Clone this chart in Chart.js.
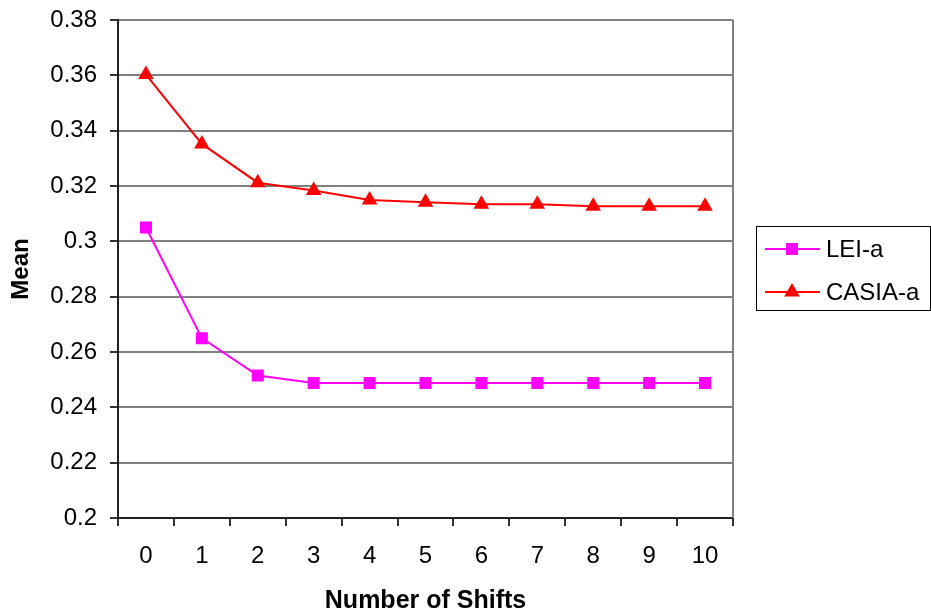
<!DOCTYPE html>
<html>
<head>
<meta charset="utf-8">
<script src="https://cdn.jsdelivr.net/npm/chart.js@4"></script>
<style>
  html, body { margin: 0; padding: 0; background: #fff; }
  #wrap { width: 931px; height: 616px; }
</style>
</head>
<body>
<div id="wrap"><canvas id="meanChart" width="931" height="616"></canvas></div>
<script>
// shift counts on the x axis
const shifts = ['0', '1', '2', '3', '4', '5', '6', '7', '8', '9', '10'];

// mean values per data set
const leiA = [0.305, 0.265, 0.2515, 0.2488, 0.2488, 0.2488, 0.2488, 0.2488, 0.2488, 0.2488, 0.2488];
const casiaA = [0.3603, 0.3352, 0.3212, 0.3184, 0.3149, 0.3141, 0.3134, 0.3134, 0.3127, 0.3127, 0.3127];

const yMin = 0.2;
const yMax = 0.38;
const yStep = 0.02;

const FONT = 'Arial, "Liberation Sans", sans-serif';

// gray frame on the right edge of the plot
const frameRight = {
    id: 'frameRight',
    beforeDatasetsDraw(chart) {
        const a = chart.chartArea;
        const ctx = chart.ctx;
        ctx.save();
        ctx.strokeStyle = '#808080';
        ctx.lineWidth = 2;
        ctx.beginPath();
        ctx.moveTo(a.right, a.top);
        ctx.lineTo(a.right, a.bottom);
        ctx.stroke();
        ctx.restore();
    }
};

function marker(ctx, style, x, y, r, color) {
    ctx.fillStyle = color;
    ctx.beginPath();
    if (style === 'rect') {
        const s = r * Math.SQRT1_2;
        ctx.rect(x - s, y - s, 2 * s, 2 * s);
    } else {
        let rad = 0;
        ctx.moveTo(x + Math.sin(rad) * r, y - Math.cos(rad) * r);
        rad += 2 * Math.PI / 3;
        ctx.lineTo(x + Math.sin(rad) * r, y - Math.cos(rad) * r);
        rad += 2 * Math.PI / 3;
        ctx.lineTo(x + Math.sin(rad) * r, y - Math.cos(rad) * r);
        ctx.closePath();
    }
    ctx.fill();
}

// boxed legend with line + marker samples
const boxLegend = {
    id: 'boxLegend',
    afterDraw(chart) {
        const ctx = chart.ctx;
        const bx = 756, by = 226, bw = 174, bh = 84;
        ctx.save();
        ctx.strokeStyle = '#000';
        ctx.lineWidth = 1;
        ctx.strokeRect(bx + 0.5, by + 0.5, bw, bh);
        ctx.font = '24px ' + FONT;
        ctx.textBaseline = 'middle';
        ctx.textAlign = 'left';
        chart.data.datasets.forEach((ds, i) => {
            const y = 249 + i * 43;
            ctx.strokeStyle = ds.borderColor;
            ctx.lineWidth = ds.borderWidth;
            ctx.beginPath();
            ctx.moveTo(765, y);
            ctx.lineTo(820, y);
            ctx.stroke();
            marker(ctx, ds.pointStyle, 792, y, ds.pointRadius, ds.backgroundColor);
            ctx.fillStyle = '#000';
            ctx.fillText(ds.label, 826, y + 1);
        });
        ctx.restore();
    }
};

new Chart(document.getElementById('meanChart'), {
    type: 'line',
    data: {
        labels: shifts,
        datasets: [
            {
                label: 'LEI-a',
                data: leiA,
                borderColor: '#ff00ff',
                backgroundColor: '#ff00ff',
                borderWidth: 2,
                pointStyle: 'rect',
                pointRadius: 8.5,
                pointBorderWidth: 0,
                tension: 0
            },
            {
                label: 'CASIA-a',
                data: casiaA,
                borderColor: '#ff0000',
                backgroundColor: '#ff0000',
                borderWidth: 2,
                pointStyle: 'triangle',
                pointRadius: 9,
                pointBorderWidth: 0,
                tension: 0
            }
        ]
    },
    options: {
        responsive: false,
        animation: false,
        layout: { padding: { left: 0, top: 20, right: 198, bottom: 0 } },
        plugins: {
            legend: { display: false },
            tooltip: { enabled: false }
        },
        scales: {
            x: {
                offset: true,
                afterFit(scale) { scale.height = 98; },
                grid: {
                    display: true,
                    drawOnChartArea: false,
                    offset: true,
                    tickLength: 8,
                    tickColor: '#333',
                    lineWidth: 2
                },
                border: { color: '#222', width: 2 },
                ticks: {
                    color: '#000',
                    padding: 16,
                    maxRotation: 0,
                    font: { family: FONT, size: 24 }
                },
                title: {
                    display: true,
                    text: 'Number of Shifts',
                    color: '#000',
                    padding: { top: 0, bottom: 0 },
                    font: { family: FONT, size: 25, weight: 'bold' }
                }
            },
            y: {
                min: yMin,
                max: yMax,
                afterFit(scale) {
                    scale.width = 118;
                    scale.paddingTop = 0;
                    scale.paddingBottom = 0;
                },
                grid: {
                    color: '#808080',
                    lineWidth: 2,
                    tickLength: 8,
                    tickColor: '#333'
                },
                border: { color: '#222', width: 2 },
                ticks: {
                    stepSize: yStep,
                    color: '#000',
                    padding: 13,
                    font: { family: FONT, size: 24 },
                    callback: v => String(parseFloat(v.toFixed(2)))
                },
                title: {
                    display: true,
                    text: 'Mean',
                    color: '#000',
                    padding: { top: 7, bottom: 0 },
                    font: { family: FONT, size: 24, weight: 'bold' }
                }
            }
        }
    },
    plugins: [frameRight, boxLegend]
});
</script>
</body>
</html>
